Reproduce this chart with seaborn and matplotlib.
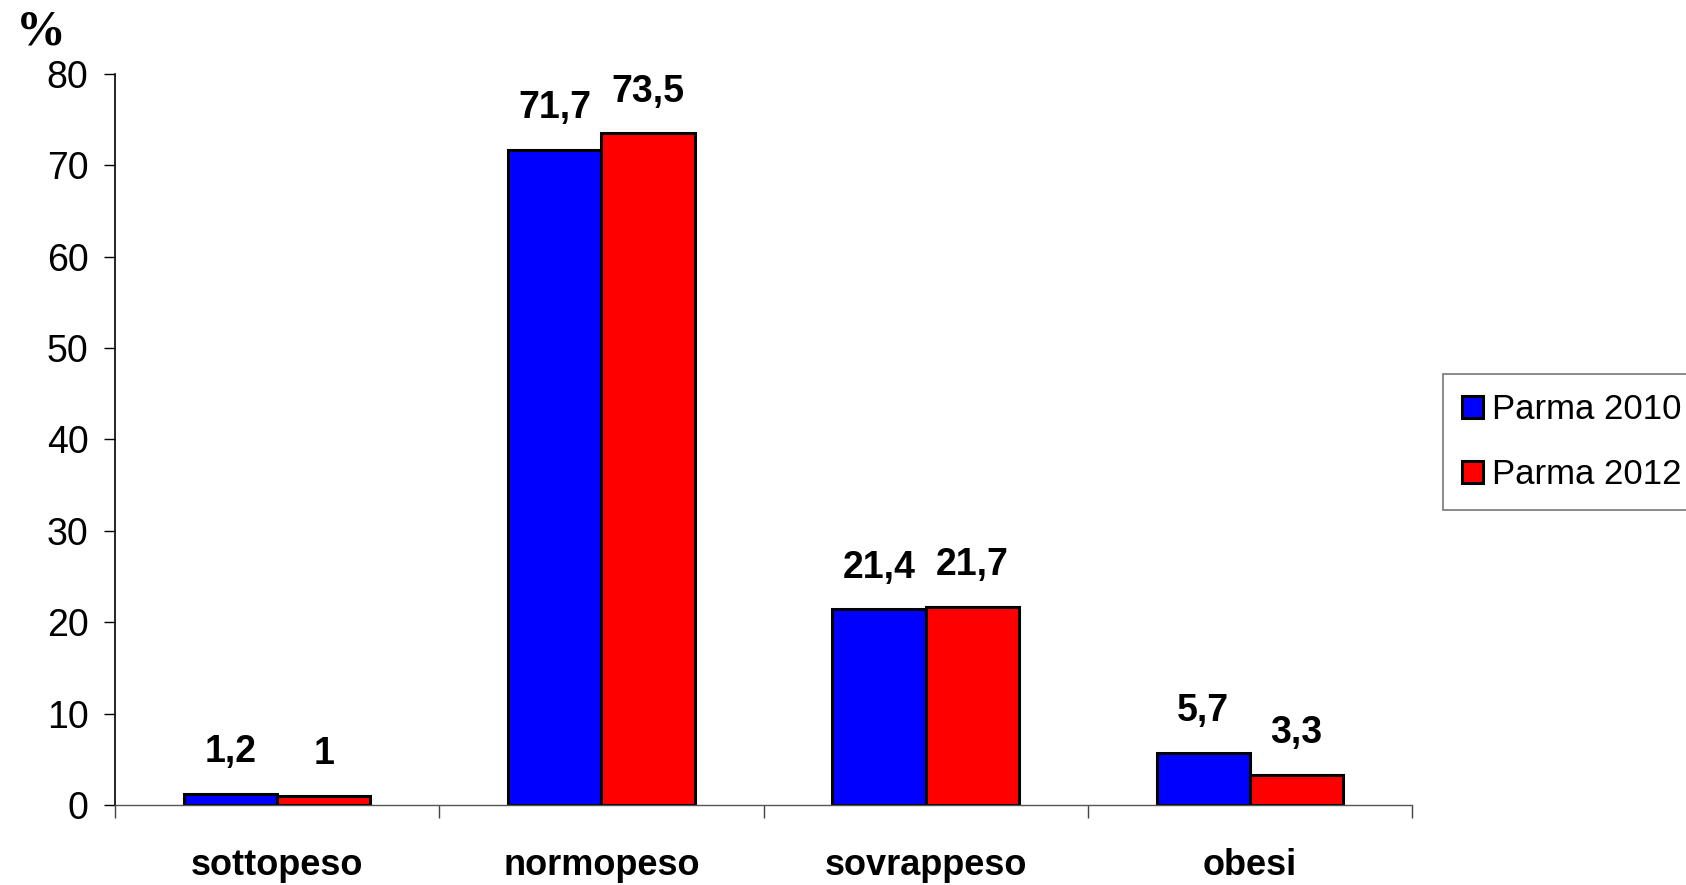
import pandas as pd
import matplotlib
matplotlib.use("Agg")
import matplotlib.pyplot as plt
from matplotlib.ticker import FixedLocator
import seaborn as sns

#   Data
categories = ["sottopeso", "normopeso", "sovrappeso", "obesi"]
parma_2010 = [1.2, 71.7, 21.4, 5.7]
parma_2012 = [1.0, 73.5, 21.7, 3.3]
series = ["Parma 2010", "Parma 2012"]

df = pd.DataFrame({
    "categoria": categories * 2,
    "valore": parma_2010 + parma_2012,
    "serie": [series[0]] * 4 + [series[1]] * 4,
})

sns.set_theme(style="white")
plt.rcParams["font.family"] = ["Liberation Sans", "DejaVu Sans"]
plt.rcParams["text.color"] = "black"
plt.rcParams["xtick.color"] = "black"
plt.rcParams["ytick.color"] = "black"
plt.rcParams["axes.labelcolor"] = "black"

fig = plt.figure(figsize=(16.86, 8.85), dpi=100)
ax = fig.add_axes([0.0682, 0.0904, 0.7693, 0.826])

sns.barplot(data=df, x="categoria", y="valore", hue="serie",
            palette=["#0000FF", "#FF0000"], width=0.575, gap=0,
            edgecolor="black", linewidth=2.2, saturation=1, ax=ax)

#   Value labels, decimal comma
for cont in ax.containers:
    labels = [f"{b.get_height():g}".replace(".", ",") for b in cont]
    ax.bar_label(cont, labels=labels, padding=17, fontsize=27,
                 fontweight="bold", color="black")

ax.set_xlim(-0.5, 3.5)
ax.set_ylim(0, 80)
ax.set_yticks(range(0, 81, 10))
ax.tick_params(axis="y", labelsize=27, length=8, width=1, direction="out",
               left=True, pad=11, colors="black")
ax.tick_params(axis="x", which="major", length=0, labelsize=26, pad=31,
               colors="black")
for lab in ax.get_xticklabels():
    lab.set_fontweight("bold")
ax.xaxis.set_minor_locator(FixedLocator([-0.5, 0.5, 1.5, 2.5, 3.5]))
ax.tick_params(axis="x", which="minor", bottom=True, length=9, width=1,
               direction="out", color="#444444")
ax.set_xlabel("")
ax.set_ylabel("")

for side in ["top", "right"]:
    ax.spines[side].set_visible(False)
ax.spines["left"].set_color("black")
ax.spines["left"].set_linewidth(1.2)
ax.spines["bottom"].set_color("#555555")
ax.spines["bottom"].set_linewidth(1.0)

#   Legend at the right, frame running off the edge like the original
ax.legend_.remove()
handles = [plt.Rectangle((0, 0), 1, 1, facecolor=c, edgecolor="black",
                         linewidth=2.2) for c in ["#0000FF", "#FF0000"]]
leg = fig.legend(handles, series, loc="upper left",
                 bbox_to_anchor=(0.856, 0.577), fontsize=25,
                 frameon=True, fancybox=False, borderpad=0.55,
                 handlelength=0.6, handleheight=0.6, handletextpad=0.25,
                 labelspacing=0.92, borderaxespad=0)
leg.get_frame().set_edgecolor("#555555")
leg.get_frame().set_linewidth(1.2)

#   Unit label at top-left
fig.text(0.024, 0.963, "%", fontsize=36, fontweight="bold",
         family=["Liberation Serif", "DejaVu Serif"], ha="center",
         va="center")

fig.savefig("out.png", dpi=100)
